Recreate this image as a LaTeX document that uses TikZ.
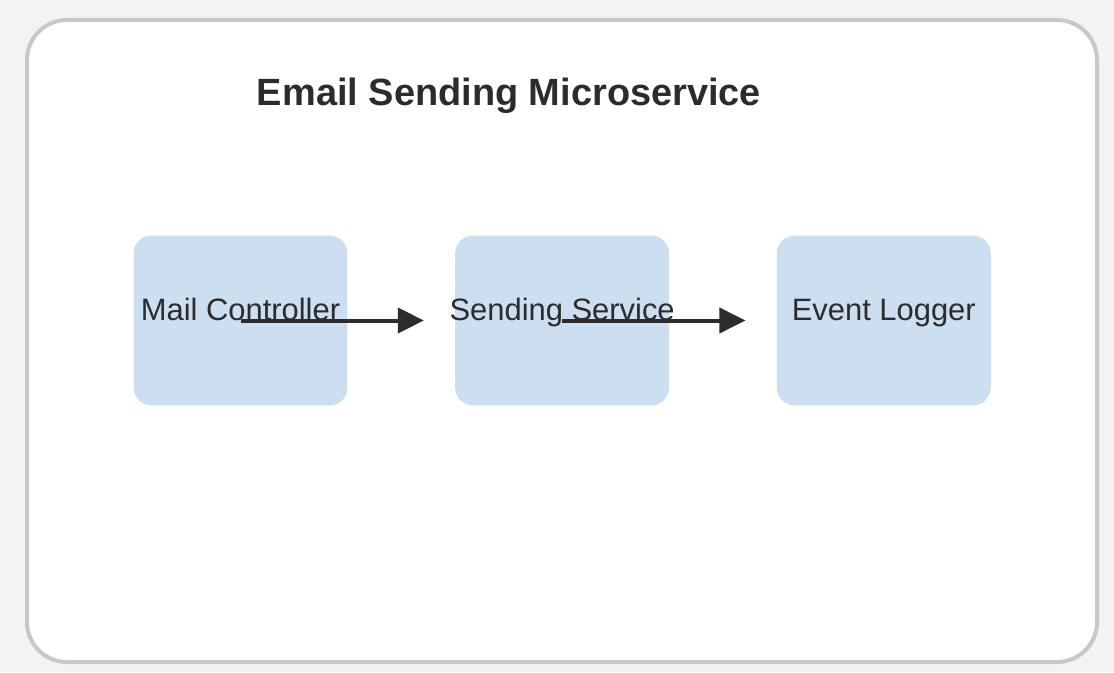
\documentclass[tikz,border=0pt]{standalone}
\usepackage{fontspec}
\setmainfont{Liberation Sans}
\usetikzlibrary{arrows.meta, calc, positioning}
\definecolor{pagegray}{RGB}{243,243,243}
\definecolor{framegray}{RGB}{200,200,200}
\definecolor{boxblue}{RGB}{203,223,241}
\definecolor{inkdark}{RGB}{44,44,44}

\begin{document}
\begin{tikzpicture}[x=0.02cm, y=-0.02cm,
        block/.style={fill=boxblue, rounded corners=0.36cm, minimum width=4.28cm, minimum height=3.4cm,
            inner sep=0pt, inner xsep=-0.2cm, text=inkdark, font=\fontsize{17.6}{20}\selectfont, text height=0.4cm, text depth=0.4cm},
        flow/.style={draw=inkdark, line width=0.08cm, -{Triangle[length=0.52cm 0 0, width=0.5cm 0 0]}}]
    \fill[pagegray] (0,0) rectangle (1114,672);
    \draw[framegray, fill=white, line width=0.08cm, rounded corners=0.8cm] (27,20) rectangle (1097,662);

    \node[text=inkdark, font=\bfseries\fontsize{21.6}{24}\selectfont] (title) at (509,96) {Email Sending Microservice};

    \node[block] (mail) at (240.5,320.5) {Mail Controller};
    \node[block, right=2.14cm of mail] (send) {Sending Service};
    \node[block, right=2.14cm of send] (logger) {Event Logger};

    \coordinate (send-in) at ($(send.west)+(-31,0)$);
    \coordinate (logger-in) at ($(logger.west)+(-31,0)$);
    \draw[flow] (mail.center) -- (send-in);
    \draw[flow] (send.center) -- (logger-in);
\end{tikzpicture}
\end{document}
